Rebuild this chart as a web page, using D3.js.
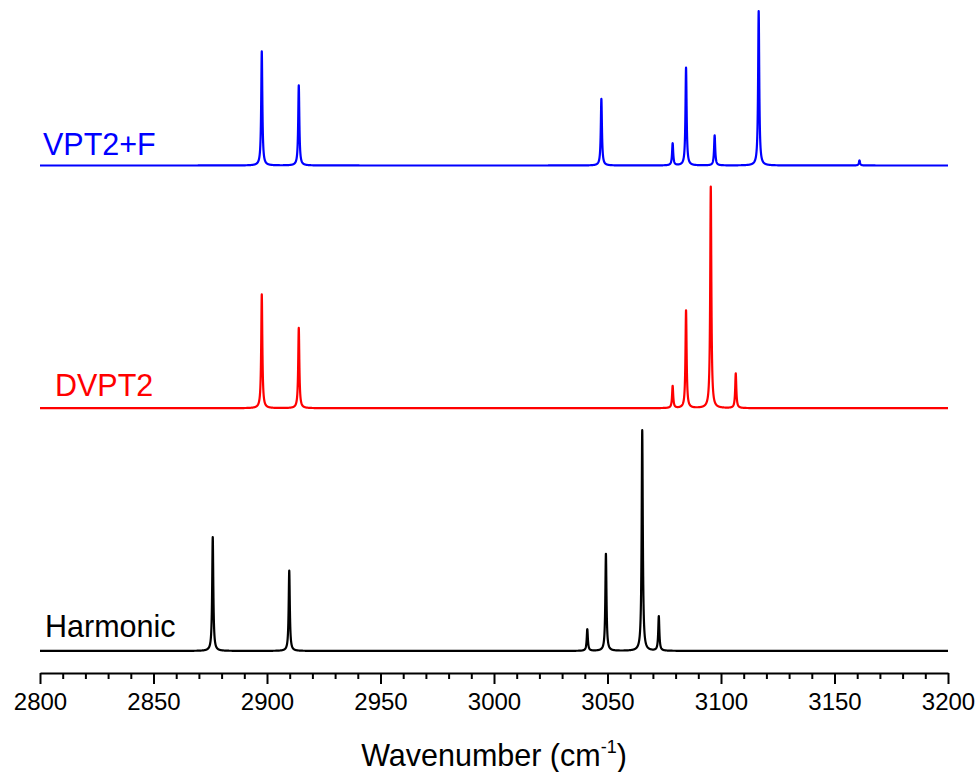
<!DOCTYPE html>
<html>
<head>
<meta charset="utf-8">
<script src="https://cdn.jsdelivr.net/npm/d3@7"></script>
<style>
  body { margin: 0; background: #ffffff; }
  text { font-family: Arial, "Liberation Sans", sans-serif; }
</style>
</head>
<body>
<svg id="chart" width="979" height="772"></svg>
<script>
// Computed IR band positions (cm^-1) and relative intensities for each method
const harmonicPos = [2876.1, 2909.8, 3041.1, 3049.3, 3065.3, 3072.6];
const harmonicInt = [0.516, 0.364, 0.098, 0.440, 1.000, 0.156];

const dvpt2Pos = [2897.7, 2914.0, 3078.7, 3084.6, 3095.5, 3106.5];
const dvpt2Int = [0.516, 0.364, 0.100, 0.443, 1.004, 0.157];

const vpt2fPos = [2897.7, 2914.0, 3047.3, 3078.7, 3084.6, 3097.2, 3116.6, 3161.0];
const vpt2fInt = [0.517, 0.363, 0.302, 0.100, 0.443, 0.136, 0.700, 0.023];

const seriesNames = ["Harmonic", "DVPT2", "VPT2+F"];

const majorTicks = [2800, 2850, 2900, 2950, 3000, 3050, 3100, 3150, 3200];
const minorTicks = d3.range(2810, 3200, 10).filter(v => v % 50 !== 0);

// Drawing settings
const colors = ["#000000", "#ff0000", "#0000ff"];
const stackOffset = 1.1;      // vertical offset between stacked spectra (intensity units)
const hwhm = 0.3;             // Lorentzian half width (cm^-1)
const step = 0.02;            // sampling step for the broadened spectra

const svg = d3.select("#chart");

const x = d3.scaleLinear().domain([2800, 3200]).range([40, 948]);
const y = d3.scaleLinear().domain([-0.1, 2.95]).range([673, 0]);

// Lorentzian-broadened spectrum from a stick list
function broaden(pos, inten) {
  const n = Math.round((3200 - 2800) / step);
  const g2 = hwhm * hwhm;
  const pts = [];
  for (let i = 0; i <= n; i++) {
    const wn = 2800 + i * step;
    let s = 0;
    for (let k = 0; k < pos.length; k++) {
      const d = wn - pos[k];
      s += inten[k] * g2 / (d * d + g2);
    }
    pts.push([wn, s]);
  }
  return pts;
}

const spectra = [
  broaden(harmonicPos, harmonicInt),
  broaden(dvpt2Pos, dvpt2Int),
  broaden(vpt2fPos, vpt2fInt)
];

spectra.forEach((pts, i) => {
  const off = i * stackOffset;
  const line = d3.line()
    .x(d => x(d[0]))
    .y(d => y(d[1] + off));
  svg.append("path")
    .datum(pts)
    .attr("d", line)
    .attr("fill", "none")
    .attr("stroke", colors[i])
    .attr("stroke-width", 2.2)
    .attr("stroke-linejoin", "round");
});

// Series labels
const labelPos = [[45, 637], [55, 396], [43, 155]];
seriesNames.forEach((name, i) => {
  svg.append("text")
    .attr("x", labelPos[i][0])
    .attr("y", labelPos[i][1])
    .attr("font-size", 30.5)
    .attr("fill", colors[i])
    .text(name);
});

// Bottom axis: major ticks with labels, minor ticks without
const axisY = 673;
const major = svg.append("g")
  .attr("transform", `translate(0,${axisY})`)
  .call(d3.axisBottom(x).tickValues(majorTicks).tickFormat(d3.format("d"))
    .tickSize(11).tickSizeOuter(0).tickPadding(9));
major.select(".domain").attr("stroke-width", 2);
major.selectAll(".tick line").attr("stroke-width", 2);
major.selectAll(".tick text")
  .attr("font-size", 24)
  .attr("font-family", "Arial, 'Liberation Sans', sans-serif")
  .attr("fill", "#000");

const minor = svg.append("g")
  .attr("transform", `translate(0,${axisY})`)
  .call(d3.axisBottom(x).tickValues(minorTicks).tickFormat("").tickSize(6).tickSizeOuter(0));
minor.select(".domain").remove();
minor.selectAll(".tick line").attr("stroke-width", 2);

// Axis title with superscript
const title = svg.append("text")
  .attr("x", 494)
  .attr("y", 766)
  .attr("text-anchor", "middle")
  .attr("font-size", 30.5)
  .attr("fill", "#000");
title.append("tspan").text("Wavenumber (cm");
title.append("tspan").attr("font-size", 18).attr("dy", -13).text("-1");
title.append("tspan").attr("dy", 13).text(")");
</script>
</body>
</html>
